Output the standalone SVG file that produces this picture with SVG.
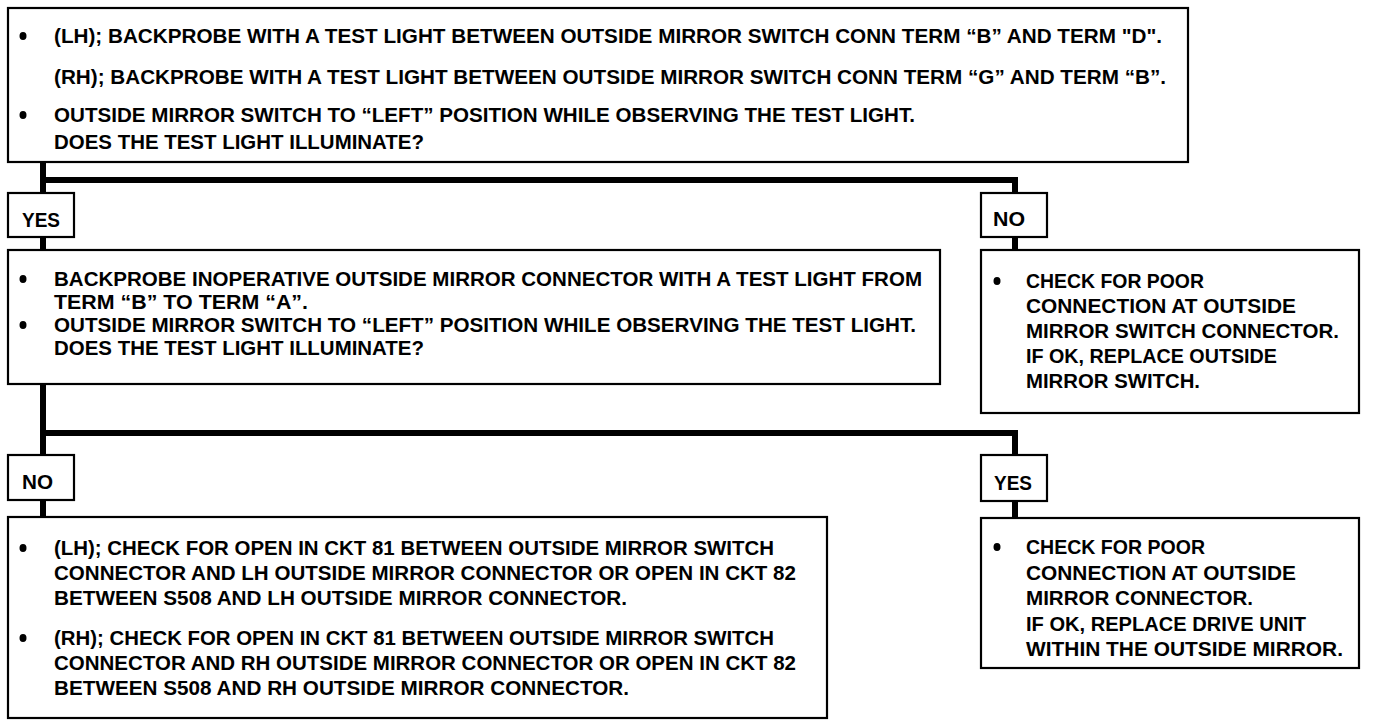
<svg xmlns="http://www.w3.org/2000/svg" width="1376" height="726" viewBox="0 0 1376 726">
<style>
.box{fill:#fff;stroke:#000;stroke-width:2.2}
.t{font-family:"Liberation Sans",Arial,sans-serif;font-weight:bold;font-size:21px;fill:#000}
.c{fill:none;stroke:#000;stroke-width:6;stroke-linejoin:miter;stroke-linecap:square}
.b{fill:#000}
</style>
<rect width="1376" height="726" fill="#fff"/>
<g id="connectors">
<path class="c" d="M43,163 V193"/>
<path class="c" d="M43,180 H1015 V193"/>
<path class="c" d="M43,237 V250"/>
<path class="c" d="M1015,237 V250"/>
<path class="c" d="M43,385 V455"/>
<path class="c" d="M43,433 H1015 V455"/>
<path class="c" d="M43,500 V517"/>
<path class="c" d="M1015,500 V518"/>
</g>
<g id="n1">
<rect class="box" x="8" y="8" width="1180" height="154"/>
<ellipse class="b" cx="23" cy="36" rx="3.5" ry="4"/>
<text class="t" x="54" y="43" textLength="1108" lengthAdjust="spacingAndGlyphs">(LH); BACKPROBE WITH A TEST LIGHT BETWEEN OUTSIDE MIRROR SWITCH CONN TERM “B” AND TERM "D".</text>
<text class="t" x="54" y="84" textLength="1112" lengthAdjust="spacingAndGlyphs">(RH); BACKPROBE WITH A TEST LIGHT BETWEEN OUTSIDE MIRROR SWITCH CONN TERM “G” AND TERM “B”.</text>
<ellipse class="b" cx="23" cy="115" rx="3.5" ry="4"/>
<text class="t" x="54" y="122" textLength="861" lengthAdjust="spacingAndGlyphs">OUTSIDE MIRROR SWITCH TO “LEFT” POSITION WHILE OBSERVING THE TEST LIGHT.</text>
<text class="t" x="54" y="149" textLength="370" lengthAdjust="spacingAndGlyphs">DOES THE TEST LIGHT ILLUMINATE?</text>
</g>
<g id="l1">
<rect class="box" x="8" y="193" width="66" height="44"/>
<text class="t" x="22" y="227" textLength="38" lengthAdjust="spacingAndGlyphs">YES</text>
</g>
<g id="l2">
<rect class="box" x="981" y="193" width="66" height="44"/>
<text class="t" x="993" y="226" textLength="32" lengthAdjust="spacingAndGlyphs">NO</text>
</g>
<g id="n2">
<rect class="box" x="8" y="250" width="932" height="134"/>
<ellipse class="b" cx="23" cy="279" rx="3.5" ry="4"/>
<text class="t" x="54" y="286" textLength="868" lengthAdjust="spacingAndGlyphs">BACKPROBE INOPERATIVE OUTSIDE MIRROR CONNECTOR WITH A TEST LIGHT FROM</text>
<text class="t" x="54" y="309" textLength="254" lengthAdjust="spacingAndGlyphs">TERM “B” TO TERM “A”.</text>
<ellipse class="b" cx="23" cy="325" rx="3.5" ry="4"/>
<text class="t" x="54" y="332" textLength="862" lengthAdjust="spacingAndGlyphs">OUTSIDE MIRROR SWITCH TO “LEFT” POSITION WHILE OBSERVING THE TEST LIGHT.</text>
<text class="t" x="54" y="355" textLength="370" lengthAdjust="spacingAndGlyphs">DOES THE TEST LIGHT ILLUMINATE?</text>
</g>
<g id="n3">
<rect class="box" x="981" y="250" width="378" height="163"/>
<ellipse class="b" cx="997" cy="281" rx="3.5" ry="4"/>
<text class="t" x="1026" y="288" textLength="178" lengthAdjust="spacingAndGlyphs">CHECK FOR POOR</text>
<text class="t" x="1026" y="313" textLength="270" lengthAdjust="spacingAndGlyphs">CONNECTION AT OUTSIDE</text>
<text class="t" x="1026" y="338" textLength="313" lengthAdjust="spacingAndGlyphs">MIRROR SWITCH CONNECTOR.</text>
<text class="t" x="1026" y="363" textLength="251" lengthAdjust="spacingAndGlyphs">IF OK, REPLACE OUTSIDE</text>
<text class="t" x="1026" y="388" textLength="174" lengthAdjust="spacingAndGlyphs">MIRROR SWITCH.</text>
</g>
<g id="l3">
<rect class="box" x="8" y="455" width="66" height="45"/>
<text class="t" x="22" y="489" textLength="31" lengthAdjust="spacingAndGlyphs">NO</text>
</g>
<g id="l4">
<rect class="box" x="981" y="455" width="66" height="46"/>
<text class="t" x="994" y="490" textLength="38" lengthAdjust="spacingAndGlyphs">YES</text>
</g>
<g id="n4">
<rect class="box" x="8" y="517" width="819" height="201"/>
<ellipse class="b" cx="23" cy="548" rx="3.5" ry="4"/>
<text class="t" x="54" y="555" textLength="720" lengthAdjust="spacingAndGlyphs">(LH); CHECK FOR OPEN IN CKT 81 BETWEEN OUTSIDE MIRROR SWITCH</text>
<text class="t" x="54" y="580" textLength="742" lengthAdjust="spacingAndGlyphs">CONNECTOR AND LH OUTSIDE MIRROR CONNECTOR OR OPEN IN CKT 82</text>
<text class="t" x="54" y="605" textLength="573" lengthAdjust="spacingAndGlyphs">BETWEEN S508 AND LH OUTSIDE MIRROR CONNECTOR.</text>
<ellipse class="b" cx="23" cy="638" rx="3.5" ry="4"/>
<text class="t" x="54" y="645" textLength="720" lengthAdjust="spacingAndGlyphs">(RH); CHECK FOR OPEN IN CKT 81 BETWEEN OUTSIDE MIRROR SWITCH</text>
<text class="t" x="54" y="670" textLength="742" lengthAdjust="spacingAndGlyphs">CONNECTOR AND RH OUTSIDE MIRROR CONNECTOR OR OPEN IN CKT 82</text>
<text class="t" x="54" y="695" textLength="575" lengthAdjust="spacingAndGlyphs">BETWEEN S508 AND RH OUTSIDE MIRROR CONNECTOR.</text>
</g>
<g id="n5">
<rect class="box" x="981" y="518" width="378" height="150"/>
<ellipse class="b" cx="997" cy="547" rx="3.5" ry="4"/>
<text class="t" x="1026" y="554" textLength="179" lengthAdjust="spacingAndGlyphs">CHECK FOR POOR</text>
<text class="t" x="1026" y="580" textLength="270" lengthAdjust="spacingAndGlyphs">CONNECTION AT OUTSIDE</text>
<text class="t" x="1026" y="605" textLength="227" lengthAdjust="spacingAndGlyphs">MIRROR CONNECTOR.</text>
<text class="t" x="1026" y="631" textLength="280" lengthAdjust="spacingAndGlyphs">IF OK, REPLACE DRIVE UNIT</text>
<text class="t" x="1026" y="656" textLength="317" lengthAdjust="spacingAndGlyphs">WITHIN THE OUTSIDE MIRROR.</text>
</g>
</svg>
